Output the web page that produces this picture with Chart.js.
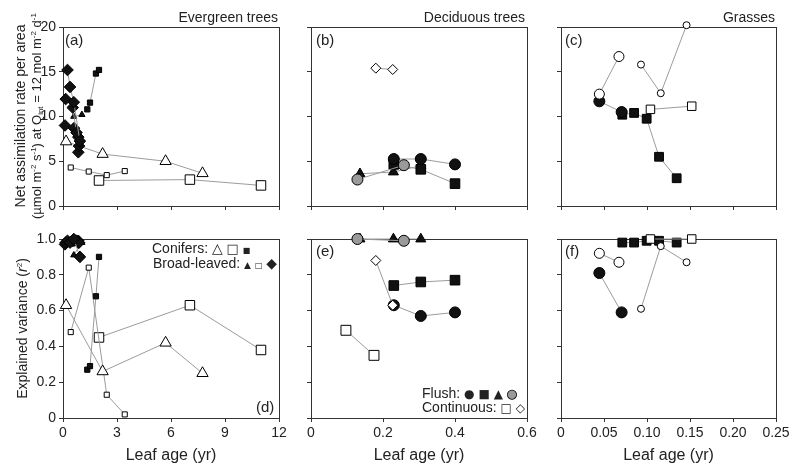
<!DOCTYPE html>
<html>
<head>
<meta charset="utf-8">
<script src="https://cdn.jsdelivr.net/npm/chart.js@4.4.1/dist/chart.umd.min.js"></script>
<style>
  body { margin: 0; background: #fff; }
  #wrap { position: relative; width: 800px; height: 471px; overflow: hidden; background: #fff;
          font-family: 'Liberation Sans', Arial, sans-serif; color: #222; }
  canvas { position: absolute; }
  .t { position: absolute; white-space: nowrap; font-size: 14px; line-height: 16px; z-index: 5; }
  .g { font-family: 'DejaVu Sans', sans-serif; }
  .rot { position: absolute; text-align: center; transform: rotate(-90deg); white-space: nowrap;
         font-size: 14px; line-height: 16px; z-index: 5; }
  sup, sub { font-size: 8px; line-height: 0; }
  sup { vertical-align: 5px; }
  sub { vertical-align: -2px; }
</style>
</head>
<body>
<div id="wrap">
  <canvas id="pa"></canvas><canvas id="pb"></canvas><canvas id="pc"></canvas>
  <canvas id="pd"></canvas><canvas id="pe"></canvas><canvas id="pf"></canvas>

  <div class="rot" style="left:-97px;top:100px;width:250px;height:32px;">
    Net assimilation rate per area<br><span style="font-size:13px">(µmol m<sup>-2</sup> s<sup>-1</sup>) at Q<sub>int</sub> = 12 mol m<sup>-2</sup> d<sup>-1</sup></span>
  </div>
  <div class="rot" style="left:-78px;top:320px;width:200px;height:17px;">Explained variance (<i>r</i><sup>2</sup>)</div>

  <div class="t" style="right:522px;top:9px;">Evergreen trees</div>
  <div class="t" style="right:275px;top:9px;">Deciduous trees</div>
  <div class="t" style="right:25px;top:9px;">Grasses</div>

  <div class="t" style="left:65px;top:32px;font-size:15px;">(a)</div>
  <div class="t" style="left:316px;top:32px;font-size:15px;">(b)</div>
  <div class="t" style="left:565px;top:32px;font-size:15px;">(c)</div>
  <div class="t" style="left:256px;top:399px;font-size:15px;">(d)</div>
  <div class="t" style="left:316px;top:243px;font-size:15px;">(e)</div>
  <div class="t" style="left:565px;top:243px;font-size:15px;">(f)</div>

  <div class="t" style="left:152px;top:240px;">Conifers: <span class="g" style="font-size:14px">△</span> <span class="g" style="font-size:13px">□</span> <span class="g" style="font-size:8px">■</span></div>
  <div class="t" style="left:153px;top:255px;">Broad-leaved: <span class="g" style="font-size:9px">▲</span> <span class="g" style="font-size:8px">□</span> <span class="g" style="font-size:14px">◆</span></div>
  <div class="t" style="left:422px;top:385px;">Flush: <span class="g" style="font-size:12px">●</span> <span class="g" style="font-size:12px">■</span> <span class="g" style="font-size:12px">▲</span> <span class="g" style="font-size:12px;color:#9a9a9a;-webkit-text-stroke:0.8px #000;">●</span></div>
  <div class="t" style="left:422px;top:399px;">Continuous: <span class="g" style="font-size:12px">□</span> <span class="g" style="font-size:12px">◇</span></div>
</div>

<script>
// ---------- tick values / labels ----------
const egAgeTicks = [0, 3, 6, 9, 12];
const egAgeLabels = ['0', '3', '6', '9', '12'];
const dcAgeTicks = [0, 0.2, 0.4, 0.6];
const dcAgeLabels = ['0', '0.2', '0.4', '0.6'];
const grAgeTicks = [0, 0.05, 0.10, 0.15, 0.20, 0.25];
const grAgeLabels = ['0', '0.05', '0.10', '0.15', '0.20', '0.25'];
const anTicks = [0, 5, 10, 15, 20];
const anLabels = ['0', '5', '10', '15', '20'];
const r2Ticks = [0, 0.2, 0.4, 0.6, 0.8, 1.0];
const r2Labels = ['0', '0.2', '0.4', '0.6', '0.8', '1.0'];

// ---------- Evergreen trees ----------
// conifers
const egTriAge = [0.17, 2.2, 5.7, 7.75];
const egTriAn = [7.2, 5.8, 5.0, 3.65];
const egTriR2 = [0.63, 0.26, 0.42, 0.25];
const egSqAge = [2.0, 7.05, 11.0];
const egSqAn = [2.85, 2.95, 2.3];
const egSqR2 = [0.45, 0.63, 0.38];
const egSmSqAge = [1.35, 1.5, 1.83, 2.0];
const egSmSqAn = [10.8, 11.55, 14.8, 15.2];
const egSmSqR2 = [0.27, 0.29, 0.68, 0.9];
// broad-leaved
const blTriAge = [0.6, 1.05];
const blTriAn = [10.0, 10.2];
const blTriR2 = [0.91, 0.98];
const blSqAge = [0.43, 1.43, 2.43, 3.43];
const blSqAn = [4.3, 3.85, 3.45, 3.9];
const blSqR2 = [0.48, 0.84, 0.13, 0.02];
const blDiaAAge = [0.25, 0.39, 0.6, 0.94];
const blDiaAAn = [15.2, 13.3, 11.6, 7.25];
const blDiaAR2 = [0.99, 0.98, 1.0, 0.9];
const blDiaBAge = [0.15, 0.54, 0.75, 0.89];
const blDiaBAn = [11.95, 11.0, 8.2, 6.7];
const blDiaBR2 = [0.98, 0.99, 0.99, 0.98];
const blDiaCAge = [0.11, 0.61, 0.85, 0.85];
const blDiaCAn = [9.0, 8.7, 7.7, 6.0];
const blDiaCR2 = [0.97, 0.99, 0.98, 0.99];

// ---------- Deciduous trees ----------
const dcOpDiaAge = [0.18, 0.227];
const dcOpDiaAn = [15.4, 15.25];
const dcOpDiaR2 = [0.88, 0.63];
const dcOpSqAge = [0.097, 0.175];
const dcOpSqR2 = [0.49, 0.35];
const dcTriAge = [0.136, 0.229, 0.305];
const dcTriAn = [3.6, 3.8, 4.5];
const dcTriR2 = [1.0, 1.0, 1.0];
const dcGreyAge = [0.129, 0.258];
const dcGreyAn = [2.96, 4.56];
const dcGreyR2 = [1.0, 0.99];
const dcSqAge = [0.23, 0.305, 0.40];
const dcSqAn = [4.65, 4.1, 2.5];
const dcSqR2 = [0.74, 0.76, 0.77];
const dcCirAge = [0.23, 0.305, 0.40];
const dcCirAn = [5.25, 5.25, 4.65];
const dcCirR2 = [0.63, 0.57, 0.59];

// ---------- Grasses ----------
const grOpCirAge = [0.0446, 0.0674];
const grOpCirAn = [12.5, 16.7];
const grOpCirR2 = [0.92, 0.87];
const grSmCirAge = [0.093, 0.116, 0.146];
const grSmCirAn = [15.8, 12.6, 20.2];
const grSmCirR2 = [0.61, 0.96, 0.87];
const grCirAge = [0.0446, 0.0705];
const grCirAn = [11.7, 10.5];
const grCirR2 = [0.81, 0.59];
const grSqAge = [0.0713, 0.085, 0.0996, 0.114, 0.1345];
const grSqAn = [10.2, 10.4, 9.75, 5.5, 3.1];
const grSqR2 = [0.98, 0.98, 0.99, 0.99, 0.98];
const grOpSqAge = [0.104, 0.152];
const grOpSqAn = [10.8, 11.15];
const grOpSqR2 = [1.0, 1.0];

// ---------- styling ----------
const FONT = "'Liberation Sans', Arial, sans-serif";
const INK = '#333';
const LINE = '#9b9b9b';

// [pointStyle, radius, fill]
const M = {
  bigTriOpen: ['triangle', 6.5, '#fff'],
  bigSqOpen: ['rect', 6.7, '#fff'],
  smSqFill: ['rect', 3.7, '#111'],
  smTriFill: ['triangle', 3.6, '#111'],
  smSqOpen: ['rect', 3.6, '#fff'],
  diaFill: ['rectRot', 5.8, '#111'],
  diaOpen: ['rectRot', 5.0, '#fff'],
  sqOpenE: ['rect', 7.0, '#fff'],
  triFill: ['triangle', 5.8, '#111'],
  greyCir: ['circle', 5.5, '#9a9a9a'],
  sqFill: ['rect', 6.8, '#111'],
  cirFill: ['circle', 5.5, '#111'],
  cirOpen: ['circle', 5.0, '#fff'],
  smCirOpen: ['circle', 3.5, '#fff'],
  sqFillC: ['rect', 6.2, '#111'],
  sqOpenC: ['rect', 6.0, '#fff']
};

const series = (xs, ys, mark) => {
  const [style, r, fill] = mark;
  return {
    data: xs.map((x, i) => ({ x: x, y: ys[i] })),
    showLine: xs.length > 1,
    borderColor: LINE,
    borderWidth: 1,
    pointStyle: style,
    pointRadius: r,
    pointHoverRadius: r,
    pointBackgroundColor: fill,
    pointBorderColor: '#000',
    pointBorderWidth: 1,
    clip: false
  };
};

// box around each plot area, drawn under the points
const frame = {
  id: 'frame',
  beforeDatasetsDraw(chart) {
    const { ctx, chartArea: a } = chart;
    ctx.save();
    ctx.strokeStyle = INK;
    ctx.lineWidth = 1;
    ctx.strokeRect(Math.round(a.left) + 0.5, Math.round(a.top) + 0.5,
      Math.round(a.right - a.left), Math.round(a.bottom - a.top));
    ctx.restore();
  }
};

const makePanel = (id, area, xTicks, xLabels, yTicks, yLabels, showY, bottomRow, sets) => {
  const YW = 44, PT = 14, PR = 18, XH = bottomRow ? 52 : 12;
  const cv = document.getElementById(id);
  cv.width = area.r - area.l + YW + PR;
  cv.height = area.b - area.t + PT + XH;
  cv.style.left = (area.l - YW) + 'px';
  cv.style.top = (area.t - PT) + 'px';

  new Chart(cv, {
    type: 'scatter',
    data: { datasets: sets },
    options: {
      responsive: false,
      animation: false,
      devicePixelRatio: 1,
      layout: { padding: { left: 0, top: PT, right: PR, bottom: 0 } },
      plugins: { legend: { display: false }, tooltip: { enabled: false } },
      scales: {
        x: {
          type: 'linear',
          min: xTicks[0],
          max: xTicks[xTicks.length - 1],
          afterBuildTicks: s => { s.ticks = xTicks.map(v => ({ value: v })); },
          afterFit: s => { s.height = XH; },
          grid: { drawOnChartArea: false, drawTicks: true, tickLength: 4, color: INK },
          border: { color: INK },
          ticks: {
            display: bottomRow, padding: 3, color: '#222', maxRotation: 0, autoSkip: false,
            font: { family: FONT, size: 14 },
            callback: (v, i) => xLabels[i]
          },
          title: {
            display: bottomRow, text: 'Leaf age (yr)', color: '#222',
            font: { family: FONT, size: 16 }, padding: { top: 0, bottom: 5 }
          }
        },
        y: {
          type: 'linear',
          min: yTicks[0],
          max: yTicks[yTicks.length - 1],
          afterBuildTicks: s => { s.ticks = yTicks.map(v => ({ value: v })); },
          afterFit: s => { s.width = YW; },
          grid: { drawOnChartArea: false, drawTicks: true, tickLength: 4, color: INK },
          border: { color: INK },
          ticks: {
            display: showY, padding: 3, color: '#222', autoSkip: false,
            font: { family: FONT, size: 14 },
            callback: (v, i) => yLabels[i]
          }
        }
      }
    },
    plugins: [frame]
  });
};

const rowTop = { t: 27, b: 206 };
const rowBot = { t: 239, b: 418 };
const colA = { l: 63, r: 279 }, colB = { l: 311, r: 527 }, colC = { l: 561, r: 776 };

// (a)
makePanel('pa', { ...colA, ...rowTop }, egAgeTicks, egAgeLabels, anTicks, anLabels, true, false, [
  series(blDiaAAge, blDiaAAn, M.diaFill),
  series(blDiaBAge, blDiaBAn, M.diaFill),
  series(blDiaCAge, blDiaCAn, M.diaFill),
  series(blTriAge, blTriAn, M.smTriFill),
  series(egSmSqAge, egSmSqAn, M.smSqFill),
  series(egTriAge, egTriAn, M.bigTriOpen),
  series(blSqAge, blSqAn, M.smSqOpen),
  series(egSqAge, egSqAn, M.bigSqOpen)
]);

// (b)
makePanel('pb', { ...colB, ...rowTop }, dcAgeTicks, dcAgeLabels, anTicks, anLabels, false, false, [
  series(dcOpDiaAge, dcOpDiaAn, M.diaOpen),
  series(dcGreyAge, dcGreyAn, M.greyCir),
  series(dcCirAge, dcCirAn, M.cirFill),
  series(dcSqAge, dcSqAn, M.sqFill),
  series(dcTriAge, dcTriAn, M.triFill)
]);

// (c)
makePanel('pc', { ...colC, ...rowTop }, grAgeTicks, grAgeLabels, anTicks, anLabels, false, false, [
  series(grOpCirAge, grOpCirAn, M.cirOpen),
  series(grCirAge, grCirAn, M.cirFill),
  series(grSmCirAge, grSmCirAn, M.smCirOpen),
  series(grOpSqAge, grOpSqAn, M.sqOpenC),
  series(grSqAge, grSqAn, M.sqFillC)
]);

// (d)
makePanel('pd', { ...colA, ...rowBot }, egAgeTicks, egAgeLabels, r2Ticks, r2Labels, true, true, [
  series(blDiaAAge, blDiaAR2, M.diaFill),
  series(blDiaBAge, blDiaBR2, M.diaFill),
  series(blDiaCAge, blDiaCR2, M.diaFill),
  series(blTriAge, blTriR2, M.smTriFill),
  series(egSmSqAge, egSmSqR2, M.smSqFill),
  series(egTriAge, egTriR2, M.bigTriOpen),
  series(blSqAge, blSqR2, M.smSqOpen),
  series(egSqAge, egSqR2, M.bigSqOpen)
]);

// (e)
makePanel('pe', { ...colB, ...rowBot }, dcAgeTicks, dcAgeLabels, r2Ticks, r2Labels, false, true, [
  series(dcGreyAge, dcGreyR2, M.greyCir),
  series(dcTriAge, dcTriR2, M.triFill),
  series(dcOpDiaAge, dcOpDiaR2, M.diaOpen),
  series(dcCirAge, dcCirR2, M.cirFill),
  series(dcSqAge, dcSqR2, M.sqFill),
  series(dcOpSqAge, dcOpSqR2, M.sqOpenE)
]);

// (f)
makePanel('pf', { ...colC, ...rowBot }, grAgeTicks, grAgeLabels, r2Ticks, r2Labels, false, true, [
  series(grOpCirAge, grOpCirR2, M.cirOpen),
  series(grCirAge, grCirR2, M.cirFill),
  series(grSmCirAge, grSmCirR2, M.smCirOpen),
  series(grOpSqAge, grOpSqR2, M.sqOpenC),
  series(grSqAge, grSqR2, M.sqFillC)
]);
</script>
</body>
</html>
